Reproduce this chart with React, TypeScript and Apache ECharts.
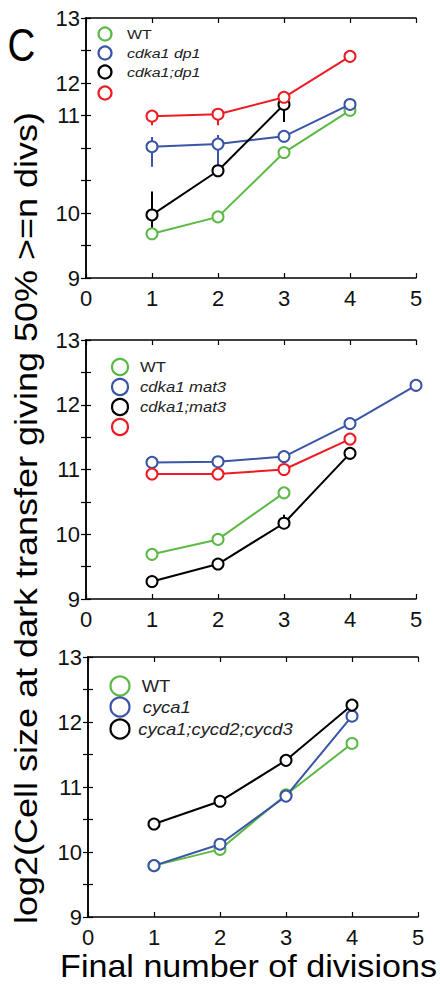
import React, { useEffect, useRef } from "react";
import * as echarts from "echarts";

// ---------- data ----------
const divisions = [1, 2, 3, 4, 5];

// Panel A (cdka1 dp1)
const panelA_WT = [9.68, 9.94, 10.93, 11.58];
const panelA_cdka1dp1 = [11.02, 11.06, 11.18, 11.67];
const panelA_cdka1_dp1 = [9.97, 10.65, 11.67];
const panelA_red = [11.49, 11.52, 11.78, 12.41];
const panelA_errBlue = [[1, 10.71, 11.17], [2, 10.71, 11.2]];
const panelA_errBlack = [[1, 9.74, 10.33], [3, 11.4, 11.73]];
const panelA_errRed = [[1, 11.35, 11.555], [2, 11.35, 11.59]];
const panelA_tickValues = [9, 10, 11.5, 12, 13];
const panelA_tickTexts = ["9", "10", "11", "12", "13"];

// Panel B (cdka1 mat3)
const panelB_WT = [9.69, 9.92, 10.64];
const panelB_cdka1mat3 = [11.11, 11.12, 11.2, 11.71, 12.3];
const panelB_cdka1_mat3 = [9.27, 9.54, 10.17, 11.25];
const panelB_red = [10.93, 10.93, 11.0, 11.47];
const panelB_errBlack = [[3, 10.1, 10.3]];
const panelB_tickValues = [9, 10, 11, 12, 13];
const panelB_tickTexts = ["9", "10", "11", "12", "13"];

// Panel C (cyca1)
const panelC_WT = [9.79, 10.04, 10.88, 11.67];
const panelC_cyca1 = [9.79, 10.12, 10.86, 12.09];
const panelC_triple = [10.43, 10.78, 11.41, 12.26];
const panelC_tickValues = [9, 10, 11, 12, 13];
const panelC_tickTexts = ["9", "10", "11", "12", "13"];

const xTickValues = [0, 1, 2, 3, 4, 5];

const legendA = ["WT", "cdka1 dp1", "cdka1;dp1", ""];
const legendB = ["WT", "cdka1 mat3", "cdka1;mat3", ""];
const legendC = ["WT", "cyca1", "cyca1;cycd2;cycd3"];

const yTitle = "log2(Cell size at dark transfer giving 50% >=n divs)";
const xTitle = "Final number of divisions";
const panelLetter = "C";

// ---------- styles ----------
const GREEN = "#5cb946";
const BLUE = "#3b55a6";
const BLACK = "#000000";
const RED = "#ec1c24";
const FONT = '"Liberation Sans", Arial, Helvetica, sans-serif';

const grids = [
  { left: 86, top: 18, width: 330, height: 260 },
  { left: 86, top: 340, width: 330, height: 259 },
  { left: 88, top: 657, width: 330, height: 260 },
];

function pairs(vals: number[]) {
  return vals.map((v, i) => [divisions[i], v]);
}

function labelFormatter(values: number[], texts: string[]) {
  return (v: number) => {
    const idx = values.findIndex((t) => Math.abs(t - v) < 1e-6);
    return idx >= 0 ? texts[idx] : "";
  };
}

export default function App() {
  const ref = useRef<HTMLDivElement>(null);

  useEffect(() => {
    if (!ref.current) return;
    const chart = echarts.init(ref.current, undefined, { renderer: "svg" });

    const xAxes: any[] = [];
    const yAxes: any[] = [];
    const tickSets = [
      [panelA_tickValues, panelA_tickTexts],
      [panelB_tickValues, panelB_tickTexts],
      [panelC_tickValues, panelC_tickTexts],
    ];
    grids.forEach((_, gi) => {
      const axisLine = { show: true, lineStyle: { color: "#000", width: 1.5 } };
      const axisTick = { show: true, inside: true, length: 5, lineStyle: { color: "#000", width: 1.2 } };
      xAxes.push({
        type: "value",
        gridIndex: gi,
        position: "bottom",
        min: 0,
        max: 5,
        interval: 1,
        axisLine,
        axisTick,
        splitLine: { show: false },
        axisLabel: {
          show: true,
          fontSize: 22,
          fontFamily: FONT,
          color: "#111",
          margin: 9,
          formatter: (v: number) => (xTickValues.includes(v) ? String(v) : ""),
        },
      });
      xAxes.push({
        type: "value",
        gridIndex: gi,
        position: "top",
        min: 0,
        max: 5,
        interval: 1,
        axisLine,
        axisTick,
        splitLine: { show: false },
        axisLabel: { show: false },
      });
      yAxes.push({
        type: "value",
        gridIndex: gi,
        position: "left",
        min: 9,
        max: 13,
        interval: 0.5,
        axisLine,
        axisTick,
        splitLine: { show: false },
        axisLabel: {
          show: true,
          fontSize: 22,
          fontFamily: FONT,
          color: "#111",
          margin: 6,
          formatter: labelFormatter(tickSets[gi][0] as number[], tickSets[gi][1] as string[]),
        },
      });
      yAxes.push({
        type: "value",
        gridIndex: gi,
        position: "right",
        min: 9,
        max: 13,
        interval: 0.5,
        axisLine,
        axisTick,
        splitLine: { show: false },
        axisLabel: { show: false },
      });
    });

    const line = (gi: number, vals: number[], color: string, z: number) => ({
      type: "line",
      xAxisIndex: gi * 2,
      yAxisIndex: gi * 2,
      data: pairs(vals),
      symbol: "emptyCircle",
      symbolSize: 11,
      lineStyle: { color, width: 2 },
      itemStyle: { color, borderColor: color, borderWidth: 2 },
      z,
      silent: true,
    });

    const err = (gi: number, data: number[][], color: string) => ({
      type: "custom",
      xAxisIndex: gi * 2,
      yAxisIndex: gi * 2,
      data,
      encode: { x: 0, y: [1, 2] },
      z: 1,
      renderItem: (_p: any, api: any) => {
        const x = api.value(0);
        const lo = api.coord([x, api.value(1)]);
        const hi = api.coord([x, api.value(2)]);
        return {
          type: "line",
          shape: { x1: lo[0], y1: lo[1], x2: hi[0], y2: hi[1] },
          style: { stroke: color, lineWidth: 2 },
        };
      },
    });

    const series: any[] = [
      err(0, panelA_errBlue, BLUE),
      err(0, panelA_errBlack, BLACK),
      err(0, panelA_errRed, RED),
      line(0, panelA_WT, GREEN, 2),
      line(0, panelA_cdka1dp1, BLUE, 3),
      line(0, panelA_cdka1_dp1, BLACK, 4),
      line(0, panelA_red, RED, 5),
      err(1, panelB_errBlack, BLACK),
      line(1, panelB_WT, GREEN, 2),
      line(1, panelB_cdka1mat3, BLUE, 3),
      line(1, panelB_cdka1_mat3, BLACK, 4),
      line(1, panelB_red, RED, 5),
      line(2, panelC_WT, GREEN, 2),
      line(2, panelC_cyca1, BLUE, 3),
      line(2, panelC_triple, BLACK, 4),
    ];

    const txt = (
      text: string,
      x: number,
      y: number,
      fontSize: number,
      opts: any = {}
    ) => ({
      type: "text",
      x,
      y,
      rotation: opts.rotation || 0,
      scaleX: opts.scaleX || 1,
      scaleY: opts.scaleY || 1,
      silent: true,
      style: {
        text,
        fontSize,
        fontFamily: FONT,
        fontStyle: opts.italic ? "italic" : "normal",
        fill: opts.fill || "#111",
        align: opts.align || "center",
        verticalAlign: "middle",
        textAlign: opts.align || "center",
        textVerticalAlign: "middle",
      },
    });

    const legendGroup = (
      names: string[],
      colors: string[],
      cx: number,
      ys: number[],
      r: number,
      tx: number[],
      fontSize: number,
      scaleX: number
    ) => {
      const els: any[] = [];
      names.forEach((n, i) => {
        els.push({
          type: "circle",
          shape: { cx, cy: ys[i], r },
          silent: true,
          style: { fill: "none", stroke: colors[i], lineWidth: 2.2 },
        });
        if (n)
          els.push(
            txt(n, tx[i], ys[i], fontSize, {
              align: "left",
              italic: n !== "WT",
              scaleX,
              fill: "#222",
            })
          );
      });
      return els;
    };

    const graphic: any[] = [
      txt(panelLetter, 21.5, 45, 47, { scaleX: 0.82, fill: "#000" }),
      txt(yTitle, 26, 518, 36, { rotation: Math.PI / 2, scaleY: 0.88, fill: "#000" }),
      txt(xTitle, 248.5, 966, 32, { scaleX: 1.065, fill: "#000" }),
      ...legendGroup(legendA, [GREEN, BLUE, BLACK, RED], 105, [34, 53, 72, 93], 6.5, [127, 127, 127, 127], 13.5, 1.18),
      ...legendGroup(legendB, [GREEN, BLUE, BLACK, RED], 120, [367, 387, 407, 427], 8, [140, 140, 140, 140], 14.5, 1.15),
      ...legendGroup(legendC, [GREEN, BLUE, BLACK], 120, [686, 707, 729], 9.5, [141.7, 142.7, 138.3], 16, 1.15),
    ];

    chart.setOption({
      animation: false,
      backgroundColor: "#ffffff",
      grid: grids,
      xAxis: xAxes,
      yAxis: yAxes,
      series,
      graphic,
    });

    return () => chart.dispose();
  }, []);

  return (
    <div
      ref={ref}
      style={{ position: "fixed", left: 0, top: 0, width: 440, height: 985, background: "#fff" }}
    />
  );
}
